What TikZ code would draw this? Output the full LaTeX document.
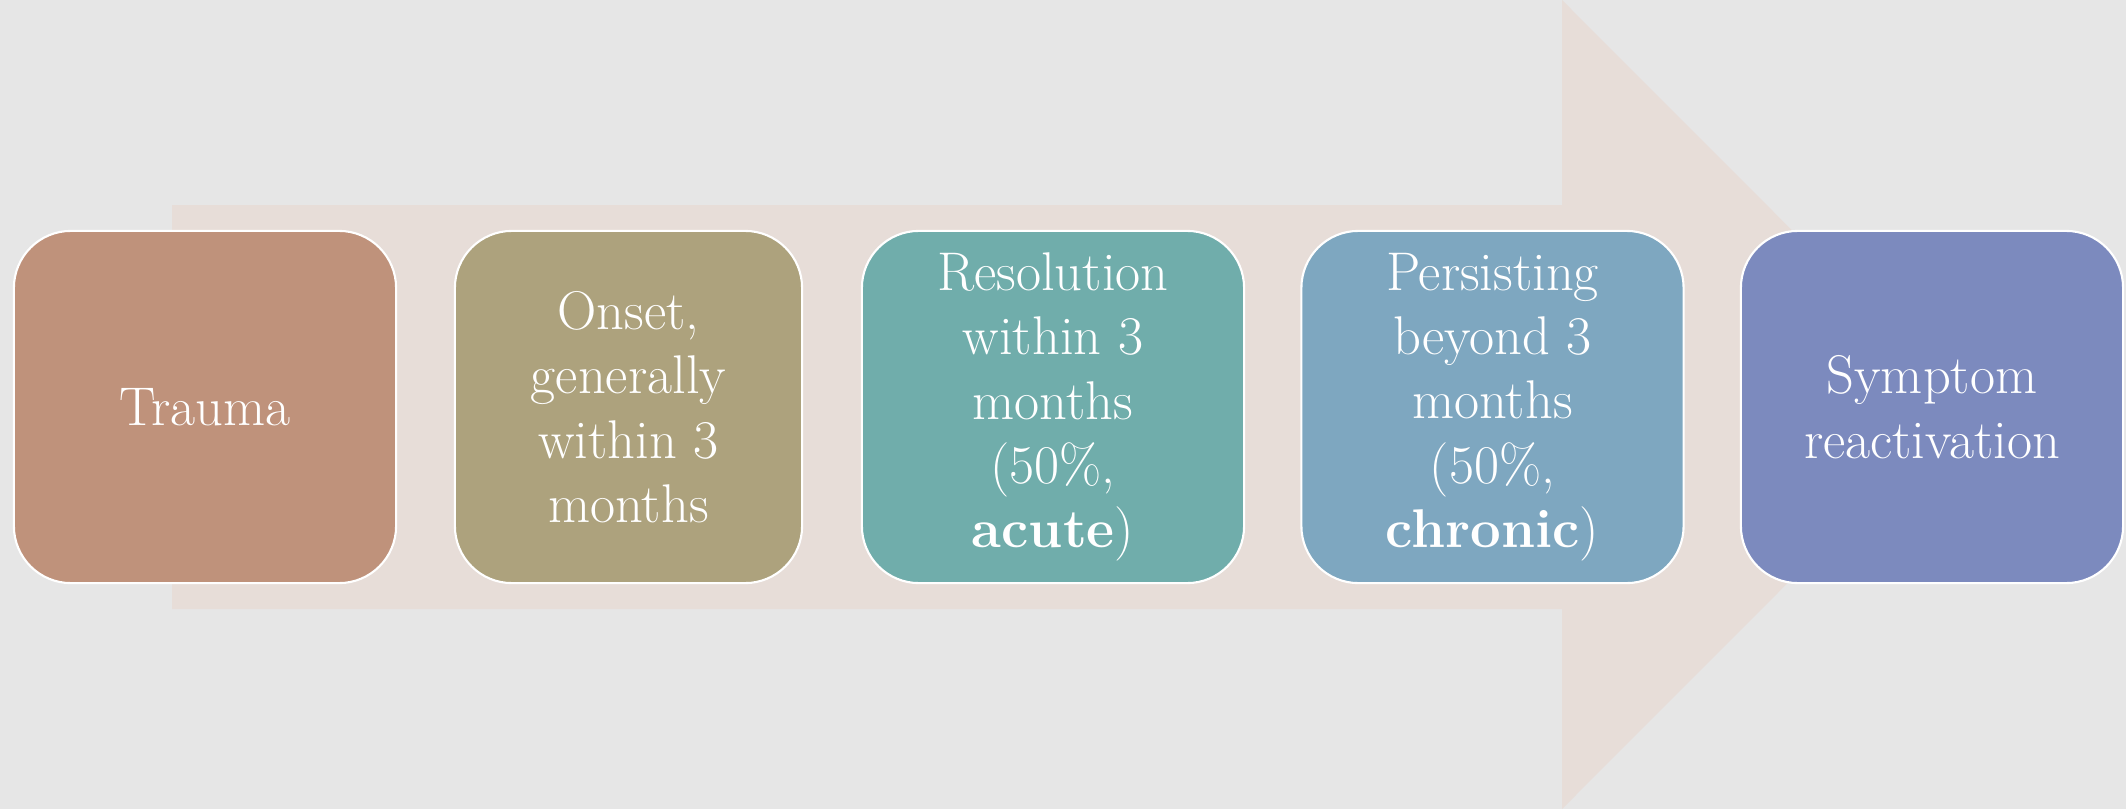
\documentclass[tikz,border=0pt]{standalone}
\usepackage{fontspec}
\usepackage{tikz}
\definecolor{canvas}{HTML}{E6E6E6}
\definecolor{flow}{HTML}{E7DDD8}
\definecolor{traumacol}{HTML}{BF927B}
\definecolor{onsetcol}{HTML}{ADA27D}
\definecolor{acutecol}{HTML}{70ADAB}
\definecolor{chroniccol}{HTML}{7EA7C0}
\definecolor{reactcol}{HTML}{7C8ABE}
\tikzset{
  stagebox/.style={draw=white, line width=0.6pt, rounded corners=0.57cm,
    minimum width=3.82cm, minimum height=3.52cm, inner sep=0pt,
    align=center, text=white, font=\fontsize{15.5}{18.3}\selectfont},
}

\begin{document}
\begin{tikzpicture}[x=0.01cm, y=-0.01cm]
  \def\w{2126}
  \def\h{809}
  \def\mid{407}
  % background
  \useasboundingbox (0,0) rectangle (\w,\h);
  \fill[canvas] (0,0) rectangle (\w,\h);
  % big arrow behind the stages
  \fill[flow] (172,205) -- (1562,205) -- (1562,0) -- (1966,\h/2)
    -- (1562,\h) -- (1562,609) -- (172,609) -- cycle;
  % stages
  \node[stagebox, fill=traumacol] (trauma) at (205,\mid) {Trauma};
  \node[stagebox, fill=onsetcol, minimum width=3.47cm] (onset) at (628.5,\mid)
    {Onset,\\generally\\within 3\\months};
  \node[stagebox, fill=acutecol] (acute) at (1053,\mid)
    {Resolution\\within 3\\months\\(50\%,\\\textbf{acute})};
  \node[stagebox, fill=chroniccol] (chronic) at (1492.5,\mid)
    {Persisting\\beyond 3\\months\\(50\%,\\\textbf{chronic})};
  \node[stagebox, fill=reactcol] (react) at (1932,\mid)
    {Symptom\\reactivation};
\end{tikzpicture}
\end{document}
